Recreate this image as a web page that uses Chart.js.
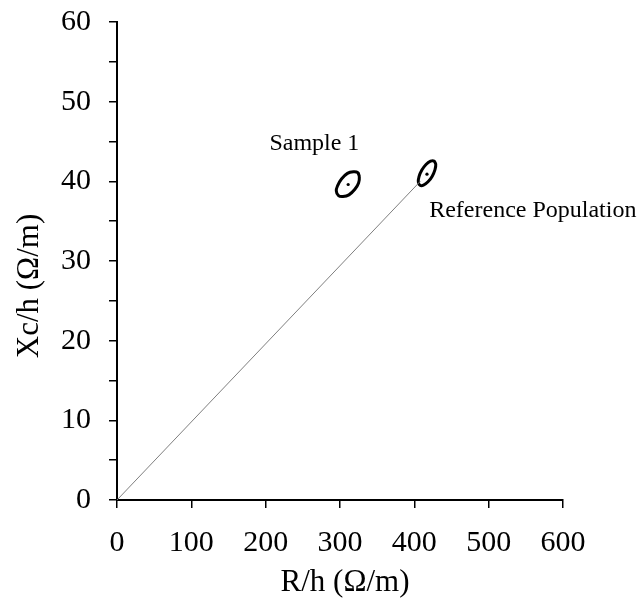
<!DOCTYPE html>
<html>
<head>
<meta charset="utf-8">
<script src="https://cdn.jsdelivr.net/npm/chart.js@4"></script>
<style>
  html, body { margin: 0; padding: 0; background: #fff; }
  #wrap { width: 644px; height: 602px; }
</style>
</head>
<body>
<div id="wrap"><canvas id="chart" width="644" height="602"></canvas></div>
<script>
// values
const seriesNames = ['Sample 1', 'Reference Population'];

// vector from origin to reference mean
const vectorX = [0, 408];
const vectorY = [0, 40];

// 95% ellipse outline, Sample 1
const sampleX = [324, 326, 325, 320, 312, 304, 298, 295, 297, 302, 310, 318, 324, 326];
const sampleY = [41.1, 40.6, 39.8, 39.0, 38.3, 38.1, 38.2, 38.8, 39.5, 40.3, 41.0, 41.2, 41.1, 40.6];
const sampleMean = [311, 39.6];

// ellipse outline, Reference Population
const refX = [426.5, 428.8, 427.8, 424.1, 418.4, 412.3, 407.6, 405.4, 406.3, 410.1, 415.7, 421.8, 426.5, 428.8];
const refY = [42.55, 42.16, 41.47, 40.65, 39.94, 39.52, 39.51, 39.90, 40.59, 41.41, 42.12, 42.53, 42.55, 42.16];
const refMean = [417, 40.9];

const xTitle = 'R/h (Ω/m)';
const yTitle = 'Xc/h (Ω/m)';

const toPts = (xs, ys) => xs.map((x, i) => ({ x: x, y: ys[i] }));

const serif = '"Liberation Serif", "Times New Roman", serif';

// labels and axis titles
const textPlugin = {
  id: 'textPlugin',
  afterDraw(chart) {
    const ctx = chart.ctx;
    const xs = chart.scales.x, ys = chart.scales.y;
    const area = chart.chartArea;
    ctx.save();
    ctx.fillStyle = '#000';
    ctx.font = '24px ' + serif;
    ctx.textAlign = 'left';
    ctx.textBaseline = 'alphabetic';
    ctx.fillText(seriesNames[0], xs.getPixelForValue(205), ys.getPixelForValue(43.9));
    ctx.fillText(seriesNames[1], xs.getPixelForValue(420), ys.getPixelForValue(35.5));

    ctx.font = '31px ' + serif;
    ctx.textAlign = 'center';
    ctx.textBaseline = 'middle';
    ctx.fillText(xTitle, (area.left + area.right) / 2 + 5, 583);
    ctx.translate(30, (area.top + area.bottom) / 2 + 25);
    ctx.rotate(-Math.PI / 2);
    ctx.fillText(yTitle, 0, 0);
    ctx.restore();
  }
};

new Chart(document.getElementById('chart'), {
  type: 'scatter',
  data: {
    datasets: [
      {
        data: toPts(vectorX, vectorY),
        showLine: true,
        borderColor: '#7f7f7f',
        borderWidth: 1,
        pointRadius: 0
      },
      {
        label: seriesNames[0],
        data: toPts(sampleX, sampleY),
        showLine: true,
        tension: 0.4,
        borderColor: '#000',
        borderWidth: 3,
        pointRadius: 0
      },
      {
        label: seriesNames[1],
        data: toPts(refX, refY),
        showLine: true,
        tension: 0.4,
        borderColor: '#000',
        borderWidth: 3,
        pointRadius: 0
      },
      {
        data: [{ x: sampleMean[0], y: sampleMean[1] }, { x: refMean[0], y: refMean[1] }],
        pointRadius: 1.6,
        pointBackgroundColor: '#000',
        pointBorderWidth: 0
      }
    ]
  },
  options: {
    responsive: false,
    animation: false,
    layout: { padding: { top: 22, right: 81, bottom: 0, left: 0 } },
    plugins: {
      legend: { display: false },
      tooltip: { enabled: false }
    },
    scales: {
      x: {
        type: 'linear',
        min: 0,
        max: 600,
        ticks: {
          stepSize: 50,
          color: '#000',
          padding: 17,
          font: { family: serif, size: 30 },
          maxRotation: 0,
          callback: v => (v % 100 === 0 ? v : '')
        },
        grid: { drawOnChartArea: false, drawTicks: true, tickLength: 8, color: '#000', lineWidth: 1.5 },
        border: { display: true, color: '#000', width: 2 },
        afterFit: s => { s.height = 102; s.paddingLeft = 0; s.paddingRight = 0; }
      },
      y: {
        type: 'linear',
        min: 0,
        max: 60,
        ticks: {
          stepSize: 5,
          color: '#000',
          padding: 18,
          font: { family: serif, size: 30 },
          callback: v => (v % 10 === 0 ? v : '')
        },
        grid: { drawOnChartArea: false, drawTicks: true, tickLength: 8, color: '#000', lineWidth: 1.5 },
        border: { display: true, color: '#000', width: 2 },
        afterFit: s => { s.width = 117; s.paddingTop = 0; s.paddingBottom = 0; }
      }
    }
  },
  plugins: [textPlugin]
});
</script>
</body>
</html>
